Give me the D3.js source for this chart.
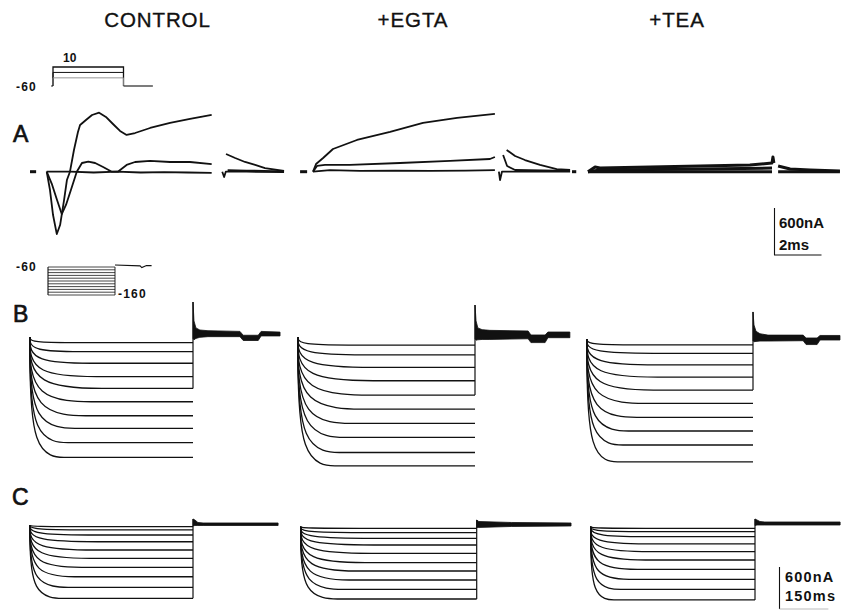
<!DOCTYPE html>
<html>
<head>
<meta charset="utf-8">
<script src="https://cdn.jsdelivr.net/npm/d3@7"></script>
<style>
  body { margin: 0; background: #fff; }
  svg { display: block; }
  text { font-family: "Liberation Sans", Arial, Helvetica, sans-serif; fill: #111; }
</style>
</head>
<body>
<svg id="fig" width="841" height="610"></svg>
<script>
// ---- data ----
var titles = ["CONTROL", "+EGTA", "+TEA"];

// panel A: voltage protocol (mV, ms)
var protoAHold = -60;
var protoASteps = [10, -10, -30];
var protoAStepMs = 3, protoAAfterMs = 1.25;

// panel A currents: [ms from step onset, nA]
var aControl = [
  [[0,0],[0.14,-234],[0.27,-553],[0.43,-796],[0.57,-681],[0.74,-361],[0.86,-106],[0.99,0],[1.16,277],[1.33,507],[1.42,596],[1.67,660],[1.93,724],[2.23,753],[2.52,699],[2.82,609],[3.12,520],[3.40,469],[3.76,494],[4.40,558],[5.25,622],[6.10,673],[7.02,724]],
  [[0,0],[0.23,-166],[0.44,-362],[0.64,-540],[0.82,-425],[1.03,-234],[1.28,0],[1.50,111],[1.77,128],[2.06,111],[2.40,60],[2.77,0],[3.03,0],[3.40,86],[3.76,124],[4.40,137],[5.25,124],[6.10,124],[7.02,98]],
  [[0,0],[1,0],[2,-10],[3,0],[4,-10],[5,-5],[6,-10],[7.02,-15]]
];
var aControlTail = [
  [[7.63,226],[8.02,175],[8.44,124],[8.87,86],[9.29,47],[10.1,9]],
  [[7.47,0],[7.55,-68],[7.62,0],[8.5,0],[10.1,-5]],
  [[7.7,20],[8.5,15],[10.1,5]]
];
var aEgta = [
  [[0,0],[0.13,98],[0.43,175],[0.85,290],[1.87,405],[3.28,507],[4.68,622],[6.13,686],[7.74,737]],
  [[0,0],[0.17,73],[0.51,86],[1.57,86],[3.7,111],[5.83,137],[7.53,162],[7.74,188]],
  [[0,0],[0.72,20],[2,10],[3.5,15],[5,10],[6.5,15],[7.74,20]]
];
var aEgtaTail = [
  [[8.24,277],[8.60,200],[9.02,149],[9.66,86],[10.37,34],[10.94,22]],
  [[8.09,214],[8.26,73],[8.60,22],[10.94,9]],
  [[7.91,0],[7.96,-106],[8.04,0],[10.94,0]]
];
var aTea = [
  [[0,0],[0.3,60],[0.51,47],[2.64,60],[4.77,73],[6.89,86],[7.83,111],[7.87,188],[7.91,111]],
  [[0,0],[0.51,22],[4.77,34],[7.83,47]],
  [[0,0],[0.51,0],[4.77,0],[7.83,0]]
];
var aTeaTail = [
  [[8.09,73],[8.6,34],[9.45,22],[10.72,9]],
  [[8.09,0],[10.72,0]]
];
var aPre = [[-0.71,-0.45],[-0.55,-0.25],[-0.68,-0.5]];

// panel B: protocol
var protoBLevels = [-60,-70,-80,-90,-100,-110,-120,-130,-140,-150,-160];
var protoBStepMs = 500;
var protoBAfter = [[0,-53],[187,-56],[200,-62],[235,-55],[273,-55]];

// panel B currents (nA, relative to holding), settle time of each trace (ms)
var stepMs = 500;
var bHold = [0, 0, -28];
var bControlLevels = [-80,-210,-375,-565,-735,-925,-1125,-1305,-1510,-1720];
var bEgtaLevels    = [-115,-255,-435,-625,-830,-1030,-1235,-1435,-1650,-1840];
var bTeaLevels     = [-85,-205,-370,-545,-730,-920,-1120,-1315,-1515,-1755];
var bControlSettle = [155,185,225,245,265,225,205,165,140,125];
var bEgtaSettle    = [170,225,255,255,245,215,180,160,140,125];
var bTeaSettle     = [180,240,255,255,240,210,180,150,130,110];
// tail after the step: time (ms), upper and lower edge of the noisy band (nA)
var bControlTailT  = [0,3,9,21,46,144,154,200,209,267];
var bControlTailHi = [500,230,130,100,90,80,25,25,80,70];
var bControlTailLo = [-20,-40,-20,-5,5,5,-50,-50,15,15];
var bEgtaTailT  = [0,3,8,20,42,150,158,198,206,268];
var bEgtaTailHi = [457,230,130,105,95,86,29,29,71,71];
var bEgtaTailLo = [-30,-45,-40,-35,-35,-25,-80,-80,-10,-10];
var bTeaTailT  = [0,3,9,21,45,151,160,193,202,262];
var bTeaTailHi = [386,200,110,75,55,55,14,14,50,50];
var bTeaTailLo = [-25,-40,-35,-30,-30,-25,-80,-80,-15,-15];

// panel C
var cHold = [0, -24, -24];
var cControlLevels = [-24,-71,-143,-239,-357,-476,-604,-739,-890,-1047];
var cEgtaLevels    = [-23,-86,-166,-262,-380,-514,-633,-762,-895,-1033];
var cTeaLevels     = [-23,-71,-143,-247,-357,-476,-609,-752,-895,-1047];
var cControlSettle = [200,240,250,250,240,220,190,165,140,120];
var cEgtaSettle    = [200,240,250,250,240,220,190,165,145,125];
var cTeaSettle     = [200,230,240,240,220,200,170,140,110,85];
var cControlTailT  = [0,6,15,31,261];
var cControlTailHi = [86,71,36,29,29];
var cControlTailLo = [-14,-7,-7,-7,-7];
var cEgtaTailT  = [0,6,99,268];
var cEgtaTailHi = [96,74,60,53];
var cEgtaTailLo = [-11,-11,3,10];
var cTeaTailT  = [0,6,15,30,259];
var cTeaTailHi = [110,96,74,67,67];
var cTeaTailLo = [17,24,24,24,24];

// scale bars
var barA = {nA: 600, ms: 2, label1: "600nA", label2: "2ms"};
var barC = {nA: 600, ms: 150, label1: "600nA", label2: "150ms"};

// ---- layout ----
var svg = d3.select("#fig");
var titleX = [157.5, 413, 677];
var aOrigin = [46.7, 313, 588];
var bCols = [[30, 193], [298, 475], [587, 753]];
var cCols = [[30, 193], [300.7, 476.7], [590.7, 755]];

var ink = "#111";
var line = d3.line();
var corner = d3.line().curve(d3.curveBasis);

titles.forEach(function (t, i) {
  svg.append("text").attr("x", titleX[i]).attr("y", 27)
    .attr("text-anchor", "middle").attr("font-size", 20.5).attr("letter-spacing", 0.9)
    .attr("stroke", ink).attr("stroke-width", 0.35)
    .text(t);
});

// panel letters
[["A", 13, 142], ["B", 13, 322], ["C", 12, 505]].forEach(function (d) {
  svg.append("text").attr("x", d[1]).attr("y", d[2]).attr("font-size", 23)
    .attr("stroke", ink).attr("stroke-width", 0.7).text(d[0]);
});

// ---- panel A protocol inset ----
var tA = d3.scaleLinear().domain([0, protoAStepMs]).range([53, 123.5]);
var vA = d3.scaleLinear().domain([-60, 10]).range([86, 67]);
var protoStyles = [[ink, 1.3], [ink, 1.0], ["#888", 0.9]];
protoASteps.forEach(function (v, i) {
  svg.append("path").attr("fill", "none")
    .attr("stroke", protoStyles[i][0]).attr("stroke-width", protoStyles[i][1])
    .attr("d", line([[tA(0), vA(protoAHold)], [tA(0), vA(v)], [tA(protoAStepMs), vA(v)], [tA(protoAStepMs), vA(protoAHold)]]));
});
svg.append("path").attr("fill", "none").attr("stroke", ink).attr("stroke-width", 1.1)
  .attr("d", line([[tA(-0.08), vA(protoAHold)], [tA(0), vA(protoAHold)]]));
svg.append("path").attr("fill", "none").attr("stroke", ink).attr("stroke-width", 1.1)
  .attr("d", line([[tA(protoAStepMs), vA(protoAHold)], [tA(protoAStepMs + protoAAfterMs), vA(protoAHold)]]));
svg.append("text").attr("x", 63).attr("y", 62).attr("font-size", 12).attr("font-weight", "bold").text(String(protoASteps[0]));
svg.append("text").attr("x", 16).attr("y", 90.5).attr("font-size", 12).attr("font-weight", "bold")
  .attr("letter-spacing", 1.2).text(String(protoAHold));

// ---- panel A traces ----
var yA = d3.scaleLinear().domain([0, 600]).range([171.7, 124.7]);
var aSets = [[aControl, aControlTail], [aEgta, aEgtaTail], [aTea, aTeaTail]];
aSets.forEach(function (set, c) {
  var x = d3.scaleLinear().domain([0, 1]).range([aOrigin[c], aOrigin[c] + 23.5]);
  var w = c === 2 ? 3 : 1.8;
  set[0].concat(set[1]).forEach(function (tr) {
    svg.append("path").attr("fill", "none").attr("stroke", ink)
      .attr("stroke-width", w).attr("stroke-linejoin", "round")
      .attr("d", line(tr.map(function (p) { return [x(p[0]), yA(p[1])]; })));
  });
  svg.append("path").attr("fill", "none").attr("stroke", ink).attr("stroke-width", 3)
    .attr("d", line([[x(aPre[c][0]), yA(0)], [x(aPre[c][1]), yA(0)]]));
});

// scale bar A
(function () {
  var x = d3.scaleLinear().domain([0, 1]).range([0, 23.5]);
  var bx = 774.5, by = 255;
  var hgt = yA(0) - yA(barA.nA);
  svg.append("path").attr("fill", "none").attr("stroke", ink).attr("stroke-width", 1.1)
    .attr("d", line([[bx, by - hgt], [bx, by], [bx + x(barA.ms), by]]));
  svg.append("text").attr("x", 779).attr("y", 228).attr("font-size", 15)
    .attr("font-weight", "bold").text(barA.label1);
  svg.append("text").attr("x", 779).attr("y", 250).attr("font-size", 15)
    .attr("font-weight", "bold").text(barA.label2);
})();

// ---- panel B protocol inset ----
var tB = d3.scaleLinear().domain([0, protoBStepMs]).range([48, 115]);
var vB = d3.scaleLinear().domain([-60, -160]).range([267, 295]);
protoBLevels.forEach(function (v) {
  svg.append("path").attr("fill", "none").attr("stroke", "#333").attr("stroke-width", 0.9)
    .attr("d", line([[tB(0), vB(v)], [tB(protoBStepMs), vB(v)]]));
});
svg.append("path").attr("fill", "none").attr("stroke", ink).attr("stroke-width", 1.1)
  .attr("d", line([[tB(0), vB(-60)], [tB(0), vB(-160)]]));
svg.append("path").attr("fill", "none").attr("stroke", ink).attr("stroke-width", 0.9)
  .attr("d", line([[tB(protoBStepMs), vB(-160)], [tB(protoBStepMs), vB(-60)]]));
svg.append("path").attr("fill", "none").attr("stroke", ink).attr("stroke-width", 1.1)
  .attr("d", line(protoBAfter.map(function (p) { return [tB(protoBStepMs + p[0]), vB(p[1])]; })));
svg.append("text").attr("x", 16).attr("y", 271).attr("font-size", 12).attr("font-weight", "bold")
  .attr("letter-spacing", 1.2).text("-60");
svg.append("text").attr("x", 118).attr("y", 297.5).attr("font-size", 12).attr("font-weight", "bold")
  .attr("letter-spacing", 1.2).text("-160");

// ---- panels B and C step families ----
function drawFamily(cols, yScale, hold, levels, settle, tailT, tailHi, tailLo, returnFrom, c) {
  var x = d3.scaleLinear().domain([0, stepMs]).range(cols[c]);
  levels.forEach(function (lv, i) {
    var pts = [[0, hold], [0, hold + lv], [settle[i], hold + lv]]
      .map(function (p) { return [x(p[0]), yScale(p[1])]; });
    var d = corner(pts) + "L" + x(stepMs) + "," + yScale(hold + lv);
    svg.append("path").attr("fill", "none").attr("stroke", ink)
      .attr("stroke-width", 1.3).attr("d", d);
  });
  // return at step end
  svg.append("path").attr("fill", "none").attr("stroke", ink).attr("stroke-width", 1.2)
    .attr("d", line([[x(stepMs), yScale(hold + levels[returnFrom])], [x(stepMs), yScale(hold + tailHi[0])]]));
  // tail band
  var band = d3.area()
    .x(function (d, i) { return x(stepMs + tailT[i]); })
    .y0(function (d, i) { return yScale(hold + tailLo[i]); })
    .y1(function (d, i) { return yScale(hold + tailHi[i]); });
  svg.append("path").attr("fill", ink).attr("stroke", ink).attr("stroke-width", 0.8)
    .attr("d", band(tailT));
}

var yB = d3.scaleLinear().domain([0, -600]).range([337, 379]);
var yC = d3.scaleLinear().domain([0, -600]).range([525, 567]);

drawFamily(bCols, yB, bHold[0], bControlLevels, bControlSettle, bControlTailT, bControlTailHi, bControlTailLo, 4, 0);
drawFamily(bCols, yB, bHold[1], bEgtaLevels, bEgtaSettle, bEgtaTailT, bEgtaTailHi, bEgtaTailLo, 4, 1);
drawFamily(bCols, yB, bHold[2], bTeaLevels, bTeaSettle, bTeaTailT, bTeaTailHi, bTeaTailLo, 4, 2);
drawFamily(cCols, yC, cHold[0], cControlLevels, cControlSettle, cControlTailT, cControlTailHi, cControlTailLo, 9, 0);
drawFamily(cCols, yC, cHold[1], cEgtaLevels, cEgtaSettle, cEgtaTailT, cEgtaTailHi, cEgtaTailLo, 9, 1);
drawFamily(cCols, yC, cHold[2], cTeaLevels, cTeaSettle, cTeaTailT, cTeaTailHi, cTeaTailLo, 9, 2);

// scale bar C
(function () {
  var x = d3.scaleLinear().domain([0, stepMs]).range(cCols[0]);
  var bx = 779.5, by = 609;
  var hgt = yC(-barC.nA) - yC(0);
  svg.append("path").attr("fill", "none").attr("stroke", ink).attr("stroke-width", 1.1)
    .attr("d", line([[bx, by - hgt], [bx, by]]));
  svg.append("path").attr("fill", "none").attr("stroke", "#bbb").attr("stroke-width", 1)
    .attr("d", line([[bx, by], [bx + x(barC.ms) - x(0), by]]));
  svg.append("text").attr("x", 785).attr("y", 582).attr("font-size", 14.5)
    .attr("font-weight", "bold").attr("letter-spacing", 1.2).text(barC.label1);
  svg.append("text").attr("x", 785).attr("y", 601).attr("font-size", 14.5)
    .attr("font-weight", "bold").attr("letter-spacing", 1.2).text(barC.label2);
})();
</script>
</body>
</html>
